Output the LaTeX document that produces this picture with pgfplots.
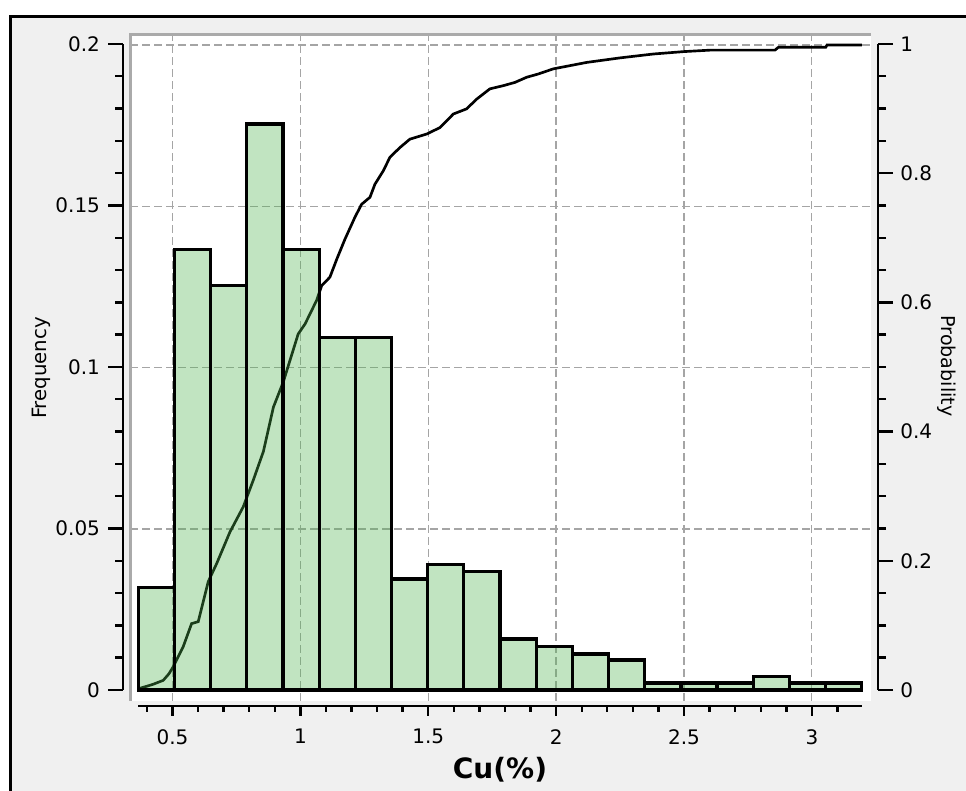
\documentclass[border=0pt]{standalone}
\usepackage{pgfplots}
\pgfplotsset{compat=1.18}
\usepackage{pgfplotstable}
\usepackage{fontspec}
\setmainfont{DejaVu Sans}
\definecolor{panel}{RGB}{240,240,240}
\definecolor{barfill}{RGB}{80,180,80}
\definecolor{gridc}{RGB}{165,165,165}
\definecolor{framec}{RGB}{170,170,170}

% empirical cumulative probability (right axis)
\pgfplotstableread{
x p
0.365 0.002
0.400 0.006
0.424 0.009
0.463 0.015
0.485 0.025
0.502 0.036
0.541 0.067
0.574 0.103
0.600 0.106
0.639 0.168
0.672 0.196
0.724 0.245
0.776 0.284
0.815 0.325
0.855 0.370
0.894 0.4385
0.933 0.478
0.991 0.552
1.018 0.5676
1.063 0.604
1.083 0.627
1.115 0.640
1.142 0.668
1.174 0.699
1.213 0.733
1.239 0.753
1.272 0.764
1.291 0.784
1.324 0.805
1.350 0.826
1.389 0.841
1.428 0.854
1.494 0.862
1.546 0.872
1.598 0.893
1.650 0.901
1.689 0.916
1.741 0.932
1.794 0.937
1.839 0.942
1.885 0.950
1.930 0.955
1.989 0.963
2.120 0.973
2.250 0.980
2.380 0.986
2.498 0.9897
2.602 0.992
2.856 0.992
2.870 0.9965
3.055 0.9965
3.060 1.000
3.196 1.000
}\cdftable

% histogram (left axis), bin left edges and relative frequencies
\pgfplotstableread{
x f
0.3650 0.0318
0.5066 0.1367
0.6481 0.1254
0.7897 0.1755
0.9312 0.1367
1.0728 0.1094
1.2143 0.1094
1.3559 0.0344
1.4974 0.0388
1.6390 0.0367
1.7805 0.0158
1.9221 0.0134
2.0636 0.0112
2.2052 0.0093
2.3467 0.0022
2.4883 0.0022
2.6298 0.0022
2.7714 0.0043
2.9129 0.0022
3.0545 0.0022
3.1960 0.0022
}\histtable

\pgfplotsset{
  tickax/.style={
    scale only axis,
    /pgf/number format/assume math mode=true,
    tick label style={font=\fontsize{15}{17}\selectfont, text=black},
    tick style={black, line width=1.8pt},
    tick align=outside,
    axis line style={black, line width=1.9pt, -},
    scaled ticks=false,
  }
}

\begin{document}
\begin{tikzpicture}
\useasboundingbox (0,0) rectangle (724.5pt,593.25pt);
\fill[white] (0,0) rectangle (724.5pt,593.25pt);
\draw[fill=panel, line width=2.25pt] (7.5pt,-20pt) rectangle (760pt,580.5pt);

% main plotting area
\begin{axis}[
  at={(97.5pt,67.5pt)}, anchor=south west,
  scale only axis, width=555.75pt, height=499.5pt,
  xmin=0.333, xmax=3.232, ymin=-0.0034, ymax=0.2031,
  axis line style={draw=none},
  axis background/.style={fill=white},
  xtick={0.5,1,1.5,2,2.5,3}, ytick={0.05,0.1,0.15,0.2},
  xticklabels={}, yticklabels={},
  major tick length=0pt,
  grid=major,
  major grid style={gridc, dash pattern=on 6pt off 3pt, line width=1.1pt},
  clip=false,
]
\addplot[black, line width=2pt] table[x=x, y expr=\thisrow{p}*0.2] {\cdftable};
\addplot[ybar interval, fill=barfill, fill opacity=0.35, draw=black, line width=2.4pt] table[x=x, y=f] {\histtable};
\draw[framec, line width=2.25pt] (rel axis cs:0,0) -- (rel axis cs:0,1) -- (rel axis cs:1,1);
\end{axis}

% left frequency axis
\begin{axis}[tickax,
  at={(92.25pt,75.75pt)}, anchor=south west,
  width=20pt, height=484.5pt,
  xmin=0, xmax=1, ymin=0, ymax=0.2,
  hide x axis, axis y line*=left,
  ytick={0,0.05,0.1,0.15,0.2}, yticklabels={0,0.05,0.1,0.15,0.2},
  yticklabel style={xshift=-2.5pt},
  minor y tick num=4,
  major tick length=11.25pt, minor tick length=6pt,
]
\end{axis}

% right probability axis
\begin{axis}[tickax,
  at={(658.5pt,75.75pt)}, anchor=south east,
  width=20pt, height=484.5pt,
  xmin=0, xmax=1, ymin=0, ymax=1,
  hide x axis, axis y line*=right,
  ytick={0,0.2,0.4,0.6,0.8,1}, yticklabels={0,0.2,0.4,0.6,0.8,1},
  yticklabel style={xshift=2pt},
  minor y tick num=3,
  major tick length=11.25pt, minor tick length=6pt,
]
\end{axis}

% bottom Cu axis
\begin{axis}[tickax,
  at={(103.5pt,63.75pt)}, anchor=south west,
  width=543pt, height=20pt,
  xmin=0.365, xmax=3.196, ymin=0, ymax=1,
  hide y axis, axis x line*=bottom,
  xtick={0.5,1,1.5,2,2.5,3}, xticklabels={0.5,1,1.5,2,2.5,3},
  xticklabel style={yshift=-6.5pt},
  minor xtick={0.4,0.6,0.7,0.8,0.9,1.1,1.2,1.3,1.4,1.6,1.7,1.8,1.9,2.1,2.2,2.3,2.4,2.6,2.7,2.8,2.9,3.1},
  major tick length=7.5pt, minor tick length=4.5pt,
]
\end{axis}

\node[rotate=90, font=\fontsize{14.8}{17}\selectfont] at (30.75pt,317.25pt) {Frequency};
\node[rotate=-90, font=\fontsize{14.3}{17}\selectfont] at (710.25pt,318.75pt) {Probability};
\node[font=\fontsize{21}{24}\selectfont\bfseries] at (375pt,15.75pt) {Cu(\%)};
\end{tikzpicture}
\end{document}
